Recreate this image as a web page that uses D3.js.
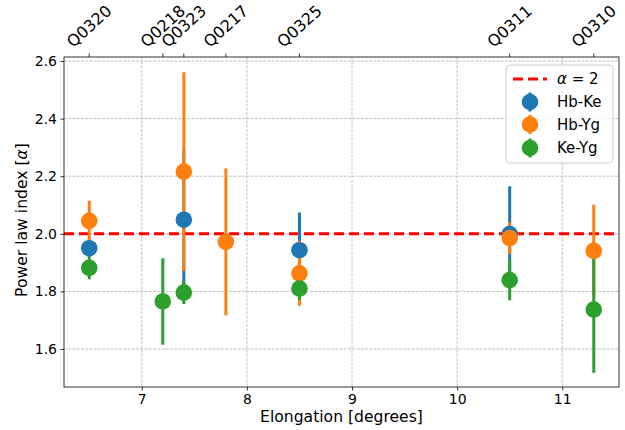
<!DOCTYPE html>
<html><head><meta charset="utf-8">
<script src="https://cdn.jsdelivr.net/npm/d3@7"></script>
<style>body{margin:0;background:#fff;} text{font-family:"DejaVu Sans",sans-serif;fill:#000;}</style>
</head><body><svg id="c" width="625" height="430"></svg>
<script>
const elongation = [6.5, 7.2, 7.4, 7.8, 8.5, 10.5, 11.3];
const obsLabels = ["Q0320", "Q0218", "Q0323", "Q0217", "Q0325", "Q0311", "Q0310"];
const seriesNames = ["Hb-Ke", "Hb-Yg", "Ke-Yg"];
const seriesColors = ["#1f77b4", "#ff7f0e", "#2ca02c"];
const hbKe = [1.950, null, 2.049, null, 1.943, 1.999, null];
const hbKeErr = [0.030, null, 0.240, null, 0.131, 0.166, null];
const hbYg = [2.045, null, 2.216, 1.972, 1.863, 1.985, 1.941];
const hbYgErr = [0.070, null, 0.345, 0.255, 0.113, 0.055, 0.160];
const keYg = [1.882, 1.765, 1.796, null, 1.810, 1.839, 1.737];
const keYgErr = [0.040, 0.150, 0.040, null, 0.040, 0.070, 0.220];
const xTicks = [7, 8, 9, 10, 11];
const yTicks = [1.6, 1.8, 2.0, 2.2, 2.4, 2.6];
const refAlpha = 2;

const svg = d3.select("#c");
const L = 64, R = 619, T = 57, B = 387;
const x = d3.scaleLinear().domain([6.26, 11.54]).range([L, R]);
const y = d3.scaleLinear().domain([1.468, 2.614]).range([B, T]);

// grid
const g = svg.append("g");
g.selectAll(".gx").data(xTicks).enter().append("line")
  .attr("x1", d => x(d)).attr("x2", d => x(d)).attr("y1", T).attr("y2", B)
  .attr("stroke", "#b0b0b0").attr("stroke-width", 0.8).attr("stroke-dasharray", "2.96,1.28");
g.selectAll(".gy").data(yTicks).enter().append("line")
  .attr("y1", d => y(d)).attr("y2", d => y(d)).attr("x1", L).attr("x2", R)
  .attr("stroke", "#b0b0b0").attr("stroke-width", 0.8).attr("stroke-dasharray", "2.96,1.28");

// reference line
svg.append("line").attr("x1", L).attr("x2", R).attr("y1", y(refAlpha)).attr("y2", y(refAlpha))
  .attr("stroke", "#ff0000").attr("stroke-width", 3).attr("stroke-dasharray", "10,5");

const series = [
  {vals: hbKe, errs: hbKeErr},
  {vals: hbYg, errs: hbYgErr},
  {vals: keYg, errs: keYgErr}
];
const pts = series.map((s, k) => elongation.map((e, i) => ({x: e, v: s.vals[i], err: s.errs[i], c: seriesColors[k]})).filter(p => p.v !== null));

// error bars first (below markers)
pts.forEach(arr => {
  svg.append("g").selectAll("line").data(arr).enter().append("line")
    .attr("x1", d => x(d.x)).attr("x2", d => x(d.x))
    .attr("y1", d => y(d.v - d.err)).attr("y2", d => y(d.v + d.err))
    .attr("stroke", d => d.c).attr("stroke-width", 3);
});
pts.forEach(arr => {
  svg.append("g").selectAll("circle").data(arr).enter().append("circle")
    .attr("cx", d => x(d.x)).attr("cy", d => y(d.v)).attr("r", 8.3)
    .attr("fill", d => d.c);
});

// spines
svg.append("rect").attr("x", L).attr("y", T).attr("width", R - L).attr("height", B - T)
  .attr("fill", "none").attr("stroke", "#000").attr("stroke-width", 0.8);

// bottom axis
const xa = svg.append("g").attr("transform", `translate(0,${B})`)
  .call(d3.axisBottom(x).tickValues(xTicks).tickSize(3.5).tickPadding(3.5).tickFormat(d3.format("d")));
xa.select(".domain").remove();
xa.selectAll("text").attr("font-size", 14).attr("font-family", "DejaVu Sans");
xa.selectAll("line").attr("stroke-width", 0.8);

// left axis
const ya = svg.append("g").attr("transform", `translate(${L},0)`)
  .call(d3.axisLeft(y).tickValues(yTicks).tickSize(3.5).tickPadding(3.5).tickFormat(d3.format(".1f")));
ya.select(".domain").remove();
ya.selectAll("text").attr("font-size", 14).attr("font-family", "DejaVu Sans");
ya.selectAll("line").attr("stroke-width", 0.8);

// top axis
const ta = svg.append("g");
ta.selectAll("line").data(elongation).enter().append("line")
  .attr("x1", d => x(d)).attr("x2", d => x(d)).attr("y1", T).attr("y2", T - 3.5)
  .attr("stroke", "#000").attr("stroke-width", 0.8);
const topFs = 16;
const angDeg = 42;
const ang = angDeg * Math.PI / 180;
elongation.forEach((e, i) => {
  const t = ta.append("text").text(obsLabels[i]).attr("font-size", topFs)
    .attr("text-anchor", "middle").attr("dominant-baseline", "central");
  const len = t.node().getComputedTextLength();
  const h = topFs * 1.0;
  const bh = len * Math.sin(ang) + h * Math.cos(ang);
  const cy = T - 7 - bh / 2;
  t.attr("transform", `translate(${x(e)},${cy}) rotate(${-angDeg})`);
});

// axis labels
svg.append("text").attr("x", (L + R) / 2).attr("y", 422).attr("text-anchor", "middle")
  .attr("font-size", 15.6).text("Elongation [degrees]");
const yl = svg.append("text").attr("transform", `translate(27,${(T + B) / 2 - 2}) rotate(-90)`)
  .attr("text-anchor", "middle").attr("font-size", 15.6);
yl.append("tspan").text("Power law index [");
yl.append("tspan").attr("font-style", "italic").text("α");
yl.append("tspan").text("]");

// legend
const lg = svg.append("g").attr("transform", "translate(506,65)");
lg.append("rect").attr("width", 107).attr("height", 98).attr("rx", 4)
  .attr("fill", "#fff").attr("fill-opacity", 0.8).attr("stroke", "#cccccc").attr("stroke-width", 1);
const rowY = [14, 37, 59.5, 83];
lg.append("line").attr("x1", 7).attr("x2", 41).attr("y1", rowY[0]).attr("y2", rowY[0])
  .attr("stroke", "#ff0000").attr("stroke-width", 3).attr("stroke-dasharray", "10,5");
const t0 = lg.append("text").attr("x", 51).attr("y", rowY[0]).attr("dy", "0.36em").attr("font-size", 15);
t0.append("tspan").attr("font-style", "italic").text("α");
t0.append("tspan").text(" = " + refAlpha);
seriesNames.forEach((n, k) => {
  const yy = rowY[k + 1];
  lg.append("line").attr("x1", 24).attr("x2", 24).attr("y1", yy - 9.5).attr("y2", yy + 9.5)
    .attr("stroke", seriesColors[k]).attr("stroke-width", 3);
  lg.append("circle").attr("cx", 24).attr("cy", yy).attr("r", 8.3).attr("fill", seriesColors[k]);
  lg.append("text").attr("x", 51).attr("y", yy).attr("dy", "0.36em").attr("font-size", 15).text(n);
});
</script></body></html>
